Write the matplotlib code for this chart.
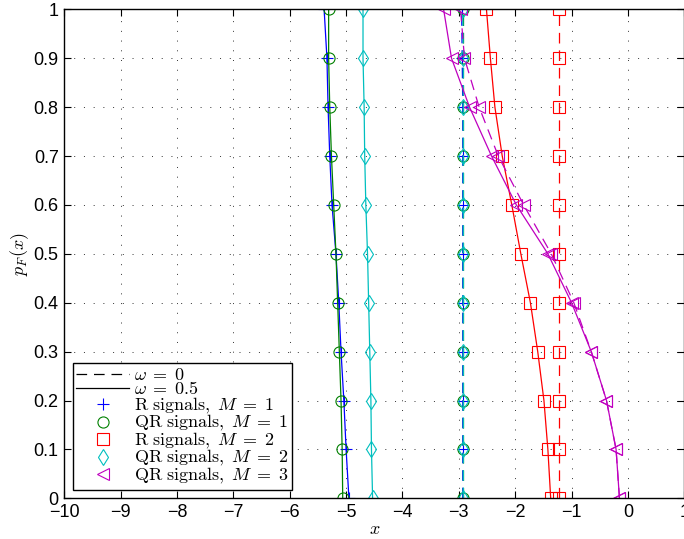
import matplotlib
matplotlib.use("Agg")
import matplotlib.pyplot as plt
from matplotlib.lines import Line2D

plt.rcParams['mathtext.fontset'] = 'cm'
plt.rcParams['font.family'] = ['Liberation Sans', 'DejaVu Sans']

p_levels = [0.0, 0.1, 0.2, 0.3, 0.4, 0.5, 0.6, 0.7, 0.8, 0.9, 1.0]

# omega = 0.5 (solid)
r1_w05 = [-4.95, -5.00, -5.04, -5.09, -5.13, -5.18, -5.25, -5.29, -5.32, -5.34, -5.39]
qr1_w05 = [-5.06, -5.07, -5.09, -5.12, -5.15, -5.18, -5.22, -5.26, -5.29, -5.31, -5.31]
r2_w05 = [-1.37, -1.42, -1.49, -1.60, -1.73, -1.90, -2.06, -2.23, -2.36, -2.44, -2.51]
qr2_w05 = [-4.53, -4.55, -4.56, -4.58, -4.60, -4.62, -4.65, -4.67, -4.68, -4.70, -4.70]
qr3_w05 = [-0.15, -0.21, -0.38, -0.65, -1.00, -1.42, -1.98, -2.42, -2.81, -3.13, -3.27]

# omega = 0 (dashed)
r1_w0 = [-2.93, -2.93, -2.93, -2.93, -2.93, -2.93, -2.93, -2.93, -2.93, -2.94, -2.95]
qr1_w0 = [-2.93, -2.93, -2.93, -2.93, -2.93, -2.93, -2.93, -2.93, -2.93, -2.93, -2.93]
r2_w0 = [-1.23, -1.23, -1.23, -1.23, -1.23, -1.23, -1.23, -1.23, -1.23, -1.23, -1.23]
qr2_w0 = [-2.92, -2.92, -2.92, -2.92, -2.92, -2.92, -2.92, -2.92, -2.92, -2.92, -2.93]
qr3_w0 = [-0.15, -0.21, -0.38, -0.65, -0.96, -1.36, -1.85, -2.30, -2.64, -2.90, -2.97]

x_ticks = [-10, -9, -8, -7, -6, -5, -4, -3, -2, -1, 0, 1]
x_tick_labels = ['\u221210', '\u22129', '\u22128', '\u22127', '\u22126', '\u22125',
                 '\u22124', '\u22123', '\u22122', '\u22121', '0', '1']
y_ticks = [0, 0.1, 0.2, 0.3, 0.4, 0.5, 0.6, 0.7, 0.8, 0.9, 1]
y_tick_labels = ['0', '0.1', '0.2', '0.3', '0.4', '0.5', '0.6', '0.7', '0.8', '0.9', '1']

series = [
    (r1_w05, r1_w0, '+', (0, 0, 1), r'$\mathrm{R\ signals,}\;M\;=\;1$'),
    (qr1_w05, qr1_w0, 'o', (0, 0.5, 0), r'$\mathrm{QR\ signals,}\;M\;=\;1$'),
    (r2_w05, r2_w0, 's', (1, 0, 0), r'$\mathrm{R\ signals,}\;M\;=\;2$'),
    (qr2_w05, qr2_w0, 'd', (0, 0.75, 0.75), r'$\mathrm{QR\ signals,}\;M\;=\;2$'),
    (qr3_w05, qr3_w0, '<', (0.75, 0, 0.75), r'$\mathrm{QR\ signals,}\;M\;=\;3$'),
]

dash = (0, (8.5, 5.5))

fig = plt.figure(figsize=(6.84, 5.39), dpi=100)
ax = fig.add_axes([0.094, 0.0755, 0.9064, 0.9072])

for w05, w0, mk, col, lab in series:
    ms = 8 if mk != '+' else 9
    ax.plot(w0, p_levels, linestyle=dash, color=col, lw=0.9,
            marker=mk, ms=ms, mfc='none', mec=col, mew=0.8)
    ax.plot(w05, p_levels, linestyle='-', color=col, lw=0.9,
            marker=mk, ms=ms, mfc='none', mec=col, mew=0.8)

ax.set_xlim(-10, 1)
ax.set_ylim(0, 1)
ax.set_xticks(x_ticks)
ax.set_xticklabels(x_tick_labels, fontsize=13)
ax.set_yticks(y_ticks)
ax.set_yticklabels(y_tick_labels, fontsize=13)
ax.tick_params(direction='in', top=True, right=True, length=5, width=0.8, pad=4)
ax.grid(True, linestyle=(0, (1, 9)), color='#333333', lw=0.7)
for s in ax.spines.values():
    s.set_linewidth(1.0)

ax.set_xlabel(r'$x$', fontsize=13, labelpad=0)
ax.set_ylabel(r'$p_F(x)$', fontsize=13, labelpad=2)

handles = [
    Line2D([], [], color='black', linestyle=dash, lw=0.9, label=r'$\omega\;=\;0$'),
    Line2D([], [], color='black', linestyle='-', lw=0.9, label=r'$\omega\;=\;0.5$'),
]
for w05, w0, mk, col, lab in series:
    handles.append(Line2D([], [], linestyle='none', marker=mk, ms=8 if mk != '+' else 9,
                          mfc='none', mec=col, mew=0.8, label=lab))

leg = ax.legend(handles=handles, loc='lower left', bbox_to_anchor=(0.0137, 0.018),
                fontsize=13, frameon=True, fancybox=False, edgecolor='black',
                framealpha=1, borderpad=0.2, labelspacing=-0.14, handlelength=2.9,
                handleheight=0.7, handletextpad=0.3, borderaxespad=0)
leg.get_frame().set_linewidth(1.0)

fig.savefig('out.png', dpi=100)
